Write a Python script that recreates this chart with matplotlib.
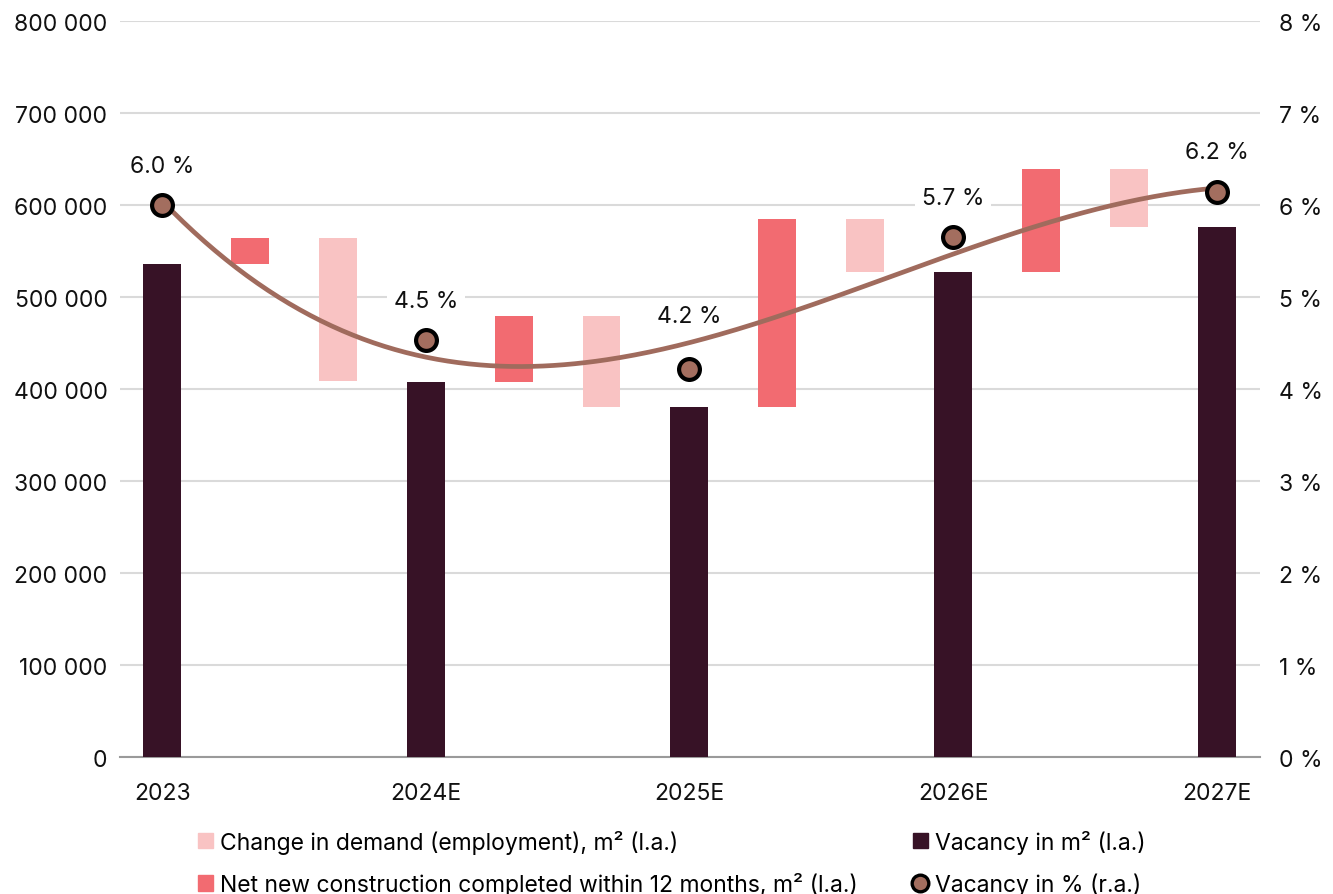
import matplotlib
matplotlib.use("Agg")
import matplotlib.pyplot as plt
import numpy as np
from matplotlib.lines import Line2D
from matplotlib.patches import Patch
from matplotlib.ticker import FuncFormatter

plt.rcParams['font.family'] = ['Inter', 'DejaVu Sans']

years = ["2023", "2024E", "2025E", "2026E", "2027E"]
vacancy_m2 = [536000, 408000, 381000, 527000, 576000]
construction = [28000, 72000, 204000, 112000]   # net new construction between years
demand = [-155000, -99000, -58000, -63000]      # change in demand (negative = absorbs vacancy)
vacancy_pct = [6.0, 4.54, 4.22, 5.66, 6.14]
pct_labels = ["6.0 %", "4.5 %", "4.2 %", "5.7 %", "6.2 %"]

c_dark = "#371226"
c_red = "#F26B71"
c_pink = "#F9C3C3"
c_line = "#A06B5D"
c_dot = "#A36E5F"
fs = 16.5

fig = plt.figure(figsize=(13.33, 8.95), dpi=100)
ax = fig.add_axes([0.09, 0.153, 0.855, 0.822])
ax2 = ax.twinx()

w = 0.43
year_pos = np.arange(len(years)) * 3
ax.bar(year_pos, vacancy_m2, width=w, color=c_dark, zorder=3)
for i in range(len(construction)):
    base = vacancy_m2[i]
    ax.bar(year_pos[i] + 1, construction[i], bottom=base, width=w, color=c_red, zorder=3)
    top = base + construction[i]
    ax.bar(year_pos[i] + 2, demand[i], bottom=top, width=w, color=c_pink, zorder=3)

ax.set_ylim(0, 800000)
ax.set_xlim(-0.48, 12.49)
ax.set_yticks(np.arange(0, 800001, 100000))
ax.yaxis.set_major_formatter(FuncFormatter(lambda v, p: f"{int(v):,}".replace(",", " ")))
ax.set_xticks(year_pos)
ax.set_xticklabels(years)
ax.grid(axis='y', color="#DADADA", linewidth=1.5, zorder=0)
ax.set_axisbelow(True)
for s in ["top", "right", "left"]:
    ax.spines[s].set_visible(False)
ax.spines["bottom"].set_color("#9A9A9A")
ax.spines["bottom"].set_linewidth(1.5)
ax.tick_params(axis='both', length=0, labelsize=fs, colors="#111111")
ax.tick_params(axis='x', pad=18)
ax.tick_params(axis='y', pad=9)

# right axis
ax2.set_ylim(0, 8)
ax2.set_yticks(np.arange(0, 9, 1))
ax2.set_yticklabels([f"{i} %" for i in range(9)])
for s in ax2.spines.values():
    s.set_visible(False)
ax2.tick_params(axis='y', length=0, labelsize=fs, colors="#111111", pad=14)

# trend line (cubic fit)
coef = np.polyfit(year_pos, vacancy_pct, 3)
xs = np.linspace(year_pos[0], year_pos[-1], 300)
ax2.plot(xs, np.polyval(coef, xs), color=c_line, linewidth=3.4, zorder=4, solid_capstyle='round')
ax2.plot(year_pos, vacancy_pct, linestyle='none', marker='o', markersize=15,
         markerfacecolor=c_dot, markeredgecolor='black', markeredgewidth=3, zorder=5)
offsets = [28, 28, 38, 28, 29]
for x, y, t, off in zip(year_pos, vacancy_pct, pct_labels, offsets):
    ax2.annotate(t, (x, y), xytext=(0, off), textcoords='offset points', ha='center', va='center',
                 fontsize=fs, color="#111111",
                 bbox=dict(boxstyle='square,pad=0.3', fc='white', ec='none'), zorder=3.5)

handles = [Patch(color=c_pink), Patch(color=c_red), Patch(color=c_dark),
           Line2D([], [], linestyle='none', marker='o', markersize=12,
                  markerfacecolor=c_dot, markeredgecolor='black', markeredgewidth=2.4)]
labels = ["Change in demand (employment), m² (l.a.)",
          "Net new construction completed within 12 months, m² (l.a.)",
          "Vacancy in m² (l.a.)", "Vacancy in % (r.a.)"]
fig.legend(handles, labels, ncol=2, loc='upper left', bbox_to_anchor=(0.142, 0.082),
           frameon=False, fontsize=fs, handlelength=0.65, handleheight=0.65,
           handletextpad=0.3, columnspacing=2.4, labelspacing=0.8, borderaxespad=0)

fig.savefig("out.png", dpi=100)
